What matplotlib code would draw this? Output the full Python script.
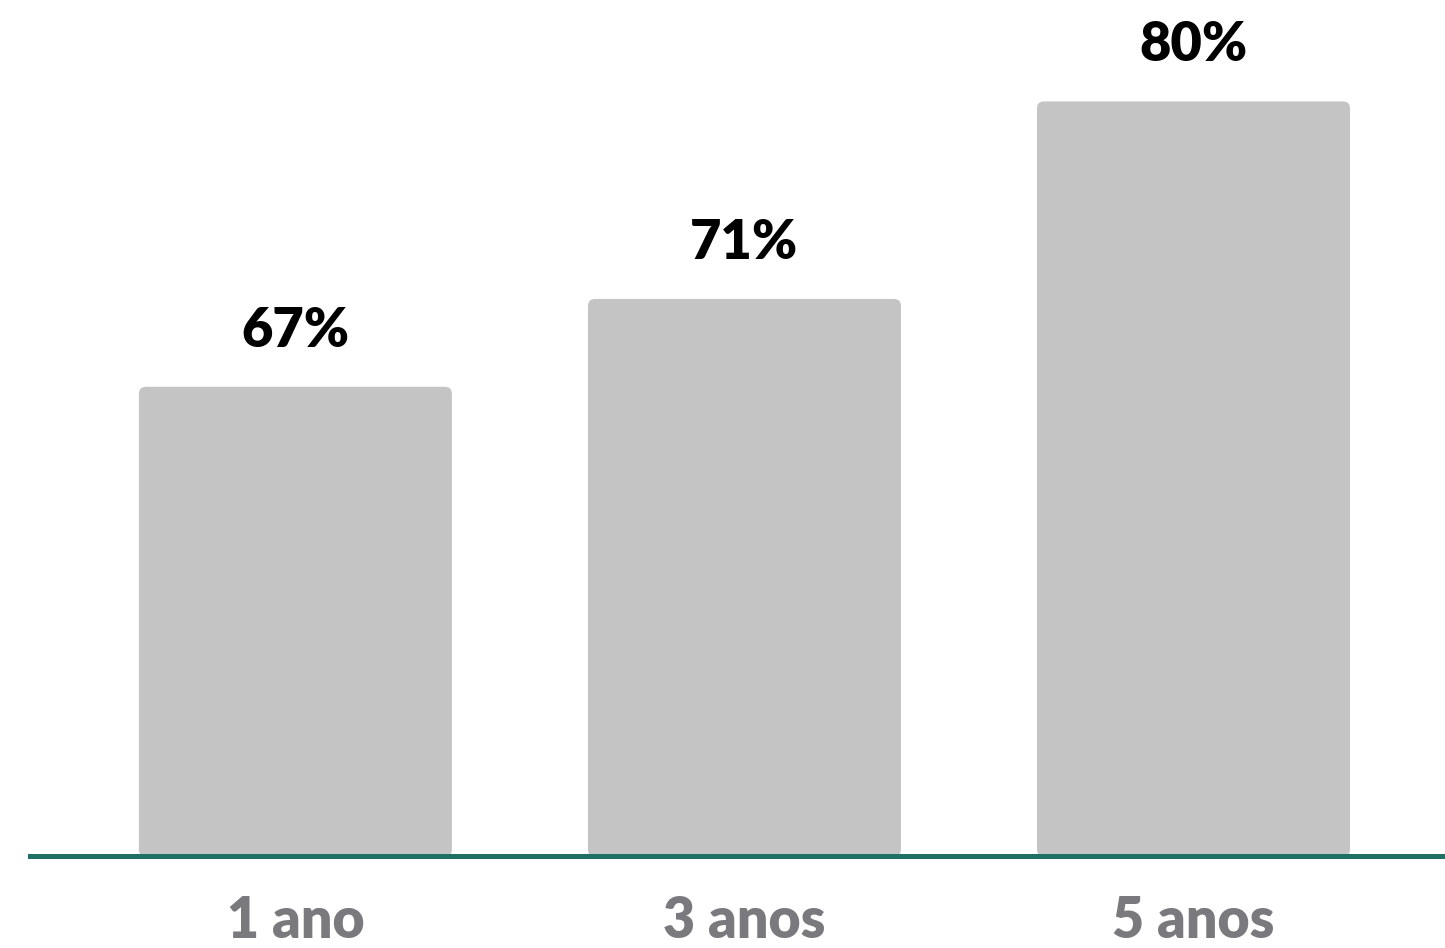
import numpy as np
import matplotlib.pyplot as plt
from matplotlib.patches import FancyBboxPatch

# Data
categories = ['1 ano', '3 anos', '5 anos']
values = [67, 71, 80]
labels = ['67%', '71%', '80%']

bar_color = '#c4c4c4'
line_color = '#1e6f64'
cat_color = '#7a797d'

plt.rcParams['font.family'] = ['Lato', 'DejaVu Sans']

fig = plt.figure(figsize=(14.45, 9.48), dpi=100)
ax = fig.add_axes([30 / 1445, (948 - 856.5) / 948, 1415 / 1445, 856.5 / 948])

x = np.arange(len(categories))
ymin = 45.6
ax.set_xlim(-0.591, 2.56)
ax.set_ylim(ymin, 84.62)

width = 0.697
bars = ax.bar(x, np.array(values) - ymin, bottom=ymin, width=width, color='none')

# rounded bars
fig.canvas.draw()
px_x = ax.transData.transform([(1, 0)])[0][0] - ax.transData.transform([(0, 0)])[0][0]
px_y = ax.transData.transform([(0, 1)])[0][1] - ax.transData.transform([(0, 0)])[0][1]
radius_px = 7
r = radius_px / px_x
aspect = px_x / px_y
for b in bars:
    patch = FancyBboxPatch((b.get_x(), b.get_y()), b.get_width(), b.get_height(),
                           boxstyle=f'round,pad=0,rounding_size={r}',
                           mutation_aspect=aspect, facecolor=bar_color,
                           edgecolor='none', zorder=2)
    ax.add_patch(patch)
    b.remove()

# baseline
ax.axhline(ymin, color=line_color, linewidth=3.6, zorder=3, clip_on=False)

# value labels
for xi, v, lab in zip(x, values, labels):
    ax.annotate(lab, xy=(xi, v), xytext=(0, 40), textcoords='offset pixels',
                ha='center', va='baseline', fontsize=39, fontweight='heavy',
                color='black')

# category labels
for xi, cat in zip(x, categories):
    ax.annotate(cat, xy=(xi, 0), xycoords=('data', 'axes fraction'),
                xytext=(0, -91), textcoords='offset pixels',
                ha='center', va='bottom', fontsize=40, fontweight='heavy',
                color=cat_color, annotation_clip=False)

ax.axis('off')

plt.savefig('out.png', dpi=100)
